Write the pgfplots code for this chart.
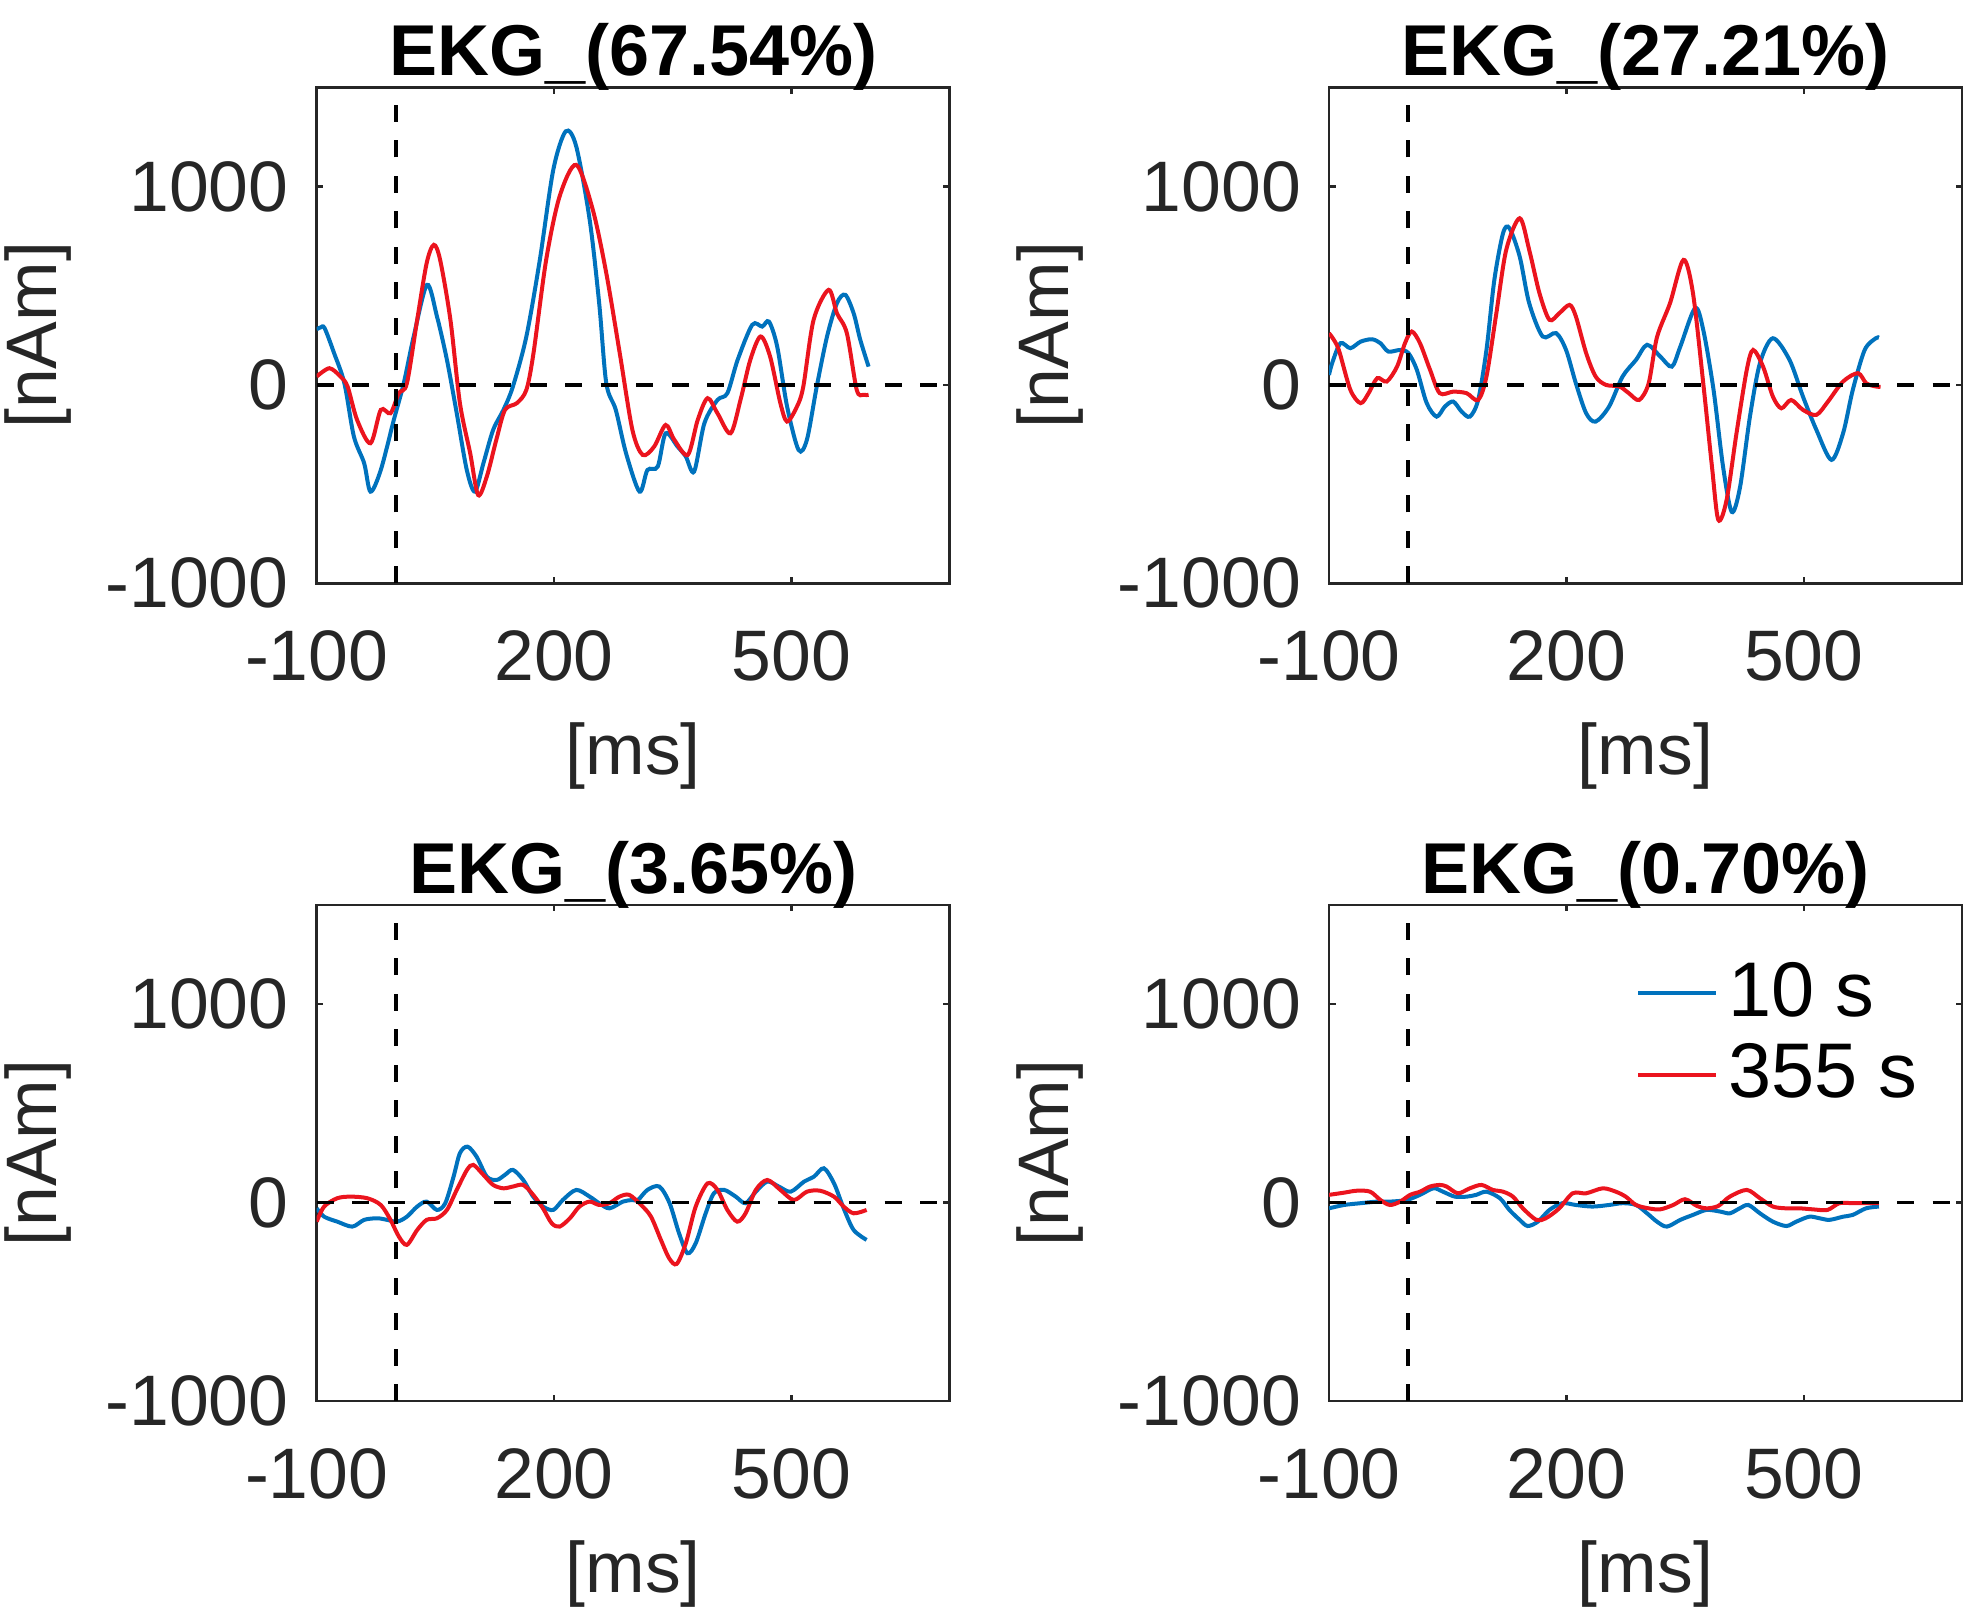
\documentclass[border=0pt]{standalone}
\usepackage{fontspec}
\setmainfont{Liberation Sans}
\usepackage{pgfplots}
\pgfplotsset{compat=1.18}
\definecolor{mblue}{RGB}{0,114,189}
\definecolor{mred}{RGB}{235,20,30}
\definecolor{axgray}{rgb}{0.15,0.15,0.15}
\pgfplotsset{
  panel/.style={
    scale only axis, width=126.6pt, height=99.2pt,
    xmin=-100, xmax=700, ymin=-1000, ymax=1500,
    xtick={-100,200,500}, xticklabels={-100,200,500},
    ytick={-1000,0,1000}, yticklabels={-1000,0,1000},
    scaled ticks=false,
    tick align=inside, major tick length=1.3pt,
    axis line style={axgray, line width=0.5pt},
    every tick/.style={axgray, line width=0.5pt},
    tick label style={font=\fontsize{14.3}{17}\selectfont, text=axgray},
    xticklabel style={yshift=-6pt},
    yticklabel style={xshift=-2.1pt},
    label style={font=\fontsize{14.3}{17}\selectfont, text=axgray},
    xlabel={[ms]}, ylabel={[nAm]},
    xlabel style={at={(axis description cs:0.5,-0.349)}, anchor=center},
    ylabel style={at={(axis description cs:-0.44,0.5)}, anchor=center},
    every axis title shift=0pt,
    title style={at={(axis description cs:0.5,1)}, anchor=center, yshift=6.1pt,
      font=\fontsize{14.4}{17}\selectfont\bfseries, text=black},
  },
  blu/.style={mblue, line width=0.8pt, smooth},
  rd/.style={mred, line width=0.8pt, smooth},
  zl/.style={black, line width=0.75pt, dash pattern=on 3.4pt off 3.7pt, forget plot},
}
\begin{document}
\begin{tikzpicture}
\useasboundingbox (0,0) rectangle (396.6pt,324.2pt);
% ---------------- panel 1 ----------------
\begin{axis}[panel, at={(63.34pt,207.54pt)}, anchor=south west, title={EKG\_(67.54\%)}]
\addplot[blu] coordinates {(-100,280) (-95,290) (-90,286) (-78,160) (-65,8) (-53,-260) (-40,-395) (-32,-538) (-19,-429) (-2.5,-176) (10,8) (22.6,244) (39.4,504) (52,345) (64.6,126) (77,-143) (89.7,-429) (100,-538) (110.7,-395) (123,-227) (136,-126) (148,-8) (165,244) (182,630) (199,1084) (214.7,1278) (228,1202) (245,832) (257,412) (266,8) (278,-126) (291,-345) (308,-538) (318,-429) (331,-412) (341,-244) (356,-311) (366.5,-361) (377,-437) (390,-193) (406.5,-76) (419,-42) (432,126) (450.5,303) (463,294) (471.6,319) (482,193) (494.5,-109) (509,-328) (519.5,-277) (532,-8) (545,244) (557.5,412) (568,454) (578.6,361) (587,227) (597.5,92)};
\addplot[rd] coordinates {(-100,42) (-84,84) (-70,42) (-61,-8) (-49,-176) (-32,-294) (-19,-126) (-6.7,-143) (3.8,-42) (14,8) (27,328) (39,614) (48,706) (56,630) (69,328) (81,-92) (94,-345) (104,-555) (115,-462) (127,-277) (138,-126) (153,-92) (165,-25) (174,160) (190,630) (207,950) (228,1109) (249,882) (266,563) (283,160) (299,-227) (312,-353) (326.5,-311) (341,-202) (352,-277) (369,-353) (381.6,-176) (394,-67) (406.5,-143) (423,-244) (435.6,-76) (448,126) (461,244) (473,143) (486,-92) (494.5,-185) (507,-109) (515,-8) (528,328) (547,479) (557.5,361) (570,261) (582.5,-25) (591,-50) (597.5,-50)};
\addplot[zl] coordinates {(-100,0) (700,0)};
\addplot[zl] coordinates {(0,-1000) (0,1500)};
\end{axis}
% ---------------- panel 2 ----------------
\begin{axis}[panel, at={(265.8pt,207.54pt)}, anchor=south west, title={EKG\_(27.21\%)}]
\addplot[blu] coordinates {(-100,50) (-96,110) (-85.5,210) (-73,185) (-60,218) (-45.7,230) (-35,210) (-25,168) (-10,176) (0.4,160) (11,76) (23.5,-92) (36,-160) (46.5,-109) (57,-84) (67.5,-134) (78,-160) (88.5,-76) (99,176) (109,530) (120,765) (128,790) (141,647) (153,412) (170,244) (187,261) (199.6,176) (212,8) (225,-143) (237,-185) (254,-109) (271,42) (288,126) (302,202) (318.7,143) (333.3,92) (344,193) (362.7,387) (373,277) (386,-25) (398,-412) (409,-640) (419.5,-515) (432,-160) (444.6,109) (461,235) (482,126) (499,-59) (516,-227) (535,-378) (549.7,-244) (562,-25) (577,176) (591,235) (595,238)};
\addplot[rd] coordinates {(-100,260) (-96,240) (-87.6,176) (-73,-25) (-60,-92) (-50,-42) (-39,34) (-27,17) (-14,92) (-4,210) (4.6,269) (15,210) (27.7,76) (40,-42) (57,-34) (74,-42) (88.5,-76) (99,42) (111.5,361) (124,681) (141,840) (153,681) (166,462) (178.6,328) (191,361) (204,403) (212,345) (225,160) (237,42) (250,0) (267,-8) (279,-42) (292,-76) (304,8) (314.5,240) (331,412) (348,630) (360,462) (373,8) (384,-412) (392,-680) (402.5,-580) (415,-244) (428,76) (436,176) (448.6,92) (461,-59) (471.7,-118) (484,-76) (499,-126) (516,-151) (530.6,-84) (549.7,17) (568.5,59) (579,8) (591,-8) (597,-10)};
\addplot[zl] coordinates {(-100,0) (700,0)};
\addplot[zl] coordinates {(0,-1000) (0,1500)};
\end{axis}
% ---------------- panel 3 ----------------
\begin{axis}[panel, at={(63.34pt,44.0pt)}, anchor=south west, title={EKG\_(3.65\%)}]
\addplot[blu] coordinates {(-100,-29) (-90.6,-71) (-74,-96) (-55,-121) (-40,-87) (-23.5,-79) (-11,-87) (1.7,-96) (14,-71) (27,-20) (39,5) (52,-37) (62.5,-3) (73,131) (81,249) (90.6,282) (102,232) (115,131) (127.5,114) (138,140) (148,165) (161,114) (173.6,30) (186,-20) (199,-37) (211,13) (228,64) (245,30) (257,-3) (270,-29) (287,5) (299,13) (306,13) (318,64) (333,81) (346,-3) (358,-155) (368.6,-255) (379,-205) (391.6,-54) (402,47) (415,64) (429.6,30) (442,-3) (455,55) (469.5,106) (484,81) (499,55) (516,106) (528.5,131) (541,173) (553.8,97) (566,-29) (578.6,-138) (595,-188)};
\addplot[rd] coordinates {(-100,-96) (-90.6,-20) (-74,22) (-57,30) (-36,22) (-19,-12) (-6.7,-87) (3.8,-171) (14,-213) (27,-138) (39,-87) (52,-79) (64.6,-37) (77,64) (90,165) (98,190) (110.7,140) (123,89) (136,72) (148,81) (161,89) (173.6,39) (186,-29) (197,-104) (207,-121) (220,-79) (232,-20) (245,5) (257,-12) (270,-3) (282.6,30) (295,39) (310,-12) (322.5,-71) (335,-188) (345.5,-281) (355,-309) (366.5,-205) (379,-20) (394,97) (406.5,64) (419,-37) (431.5,-96) (442,-54) (455,64) (469.5,114) (486,64) (503,13) (519.5,55) (536,60) (553.8,30) (566,-20) (578.6,-54) (595,-37)};
\addplot[zl] coordinates {(-100,0) (700,0)};
\addplot[zl] coordinates {(0,-1000) (0,1500)};
\end{axis}
% ---------------- panel 4 ----------------
\begin{axis}[panel, at={(265.8pt,44.0pt)}, anchor=south west, title={EKG\_(0.70\%)},
  legend entries={10 s, 355 s},
  legend cell align=left,
  legend style={draw=none, fill=none, at={(axis description cs:0.46,0.927)}, anchor=north west,
    font=\fontsize{15.5}{18}\selectfont, text=black},
  legend image code/.code={\draw[#1] (0pt,0pt) -- (15.6pt,0pt);}]
\addplot[blu] coordinates {(-100,-29) (-81,-12) (-60,-3) (-39,5) (-23,5) (-2,13) (15,39) (32,72) (44,55) (59,30) (74,30) (86,39) (99,55) (116,22) (128,-37) (141,-87) (151,-118) (164,-96) (178.6,-37) (195,-3) (212,-12) (233,-20) (254,-12) (271,-3) (288,-12) (302,-54) (314.5,-96) (327,-121) (344,-87) (360,-62) (377,-37) (394,-45) (406.5,-54) (419,-29) (430,-12) (444.6,-54) (461,-96) (478,-118) (490.6,-96) (507,-71) (520,-79) (532.5,-87) (549.7,-71) (562,-62) (578.6,-29) (595,-20)};
\addplot[rd] coordinates {(-100,39) (-81,50) (-64.6,60) (-48,55) (-35,13) (-23,-12) (-10,5) (2.5,39) (15,55) (27.7,81) (40,89) (48.6,81) (63,47) (78,72) (92.7,89) (107,64) (120,55) (132.5,30) (145,-29) (162,-87) (174,-79) (191,-29) (208,47) (225,47) (246,72) (262.5,55) (275,30) (288,-12) (304,-29) (318.7,-34) (335,-12) (350,17) (365,-17) (377,-29) (392,-17) (406.5,30) (428,64) (444.6,22) (461,-20) (478,-29) (495,-29) (511.5,-34) (530,-37) (545,-3) (562,-3) (578.6,-3) (595,-3)};
\addplot[zl] coordinates {(-100,0) (700,0)};
\addplot[zl] coordinates {(0,-1000) (0,1500)};
\end{axis}
\end{tikzpicture}
\end{document}
